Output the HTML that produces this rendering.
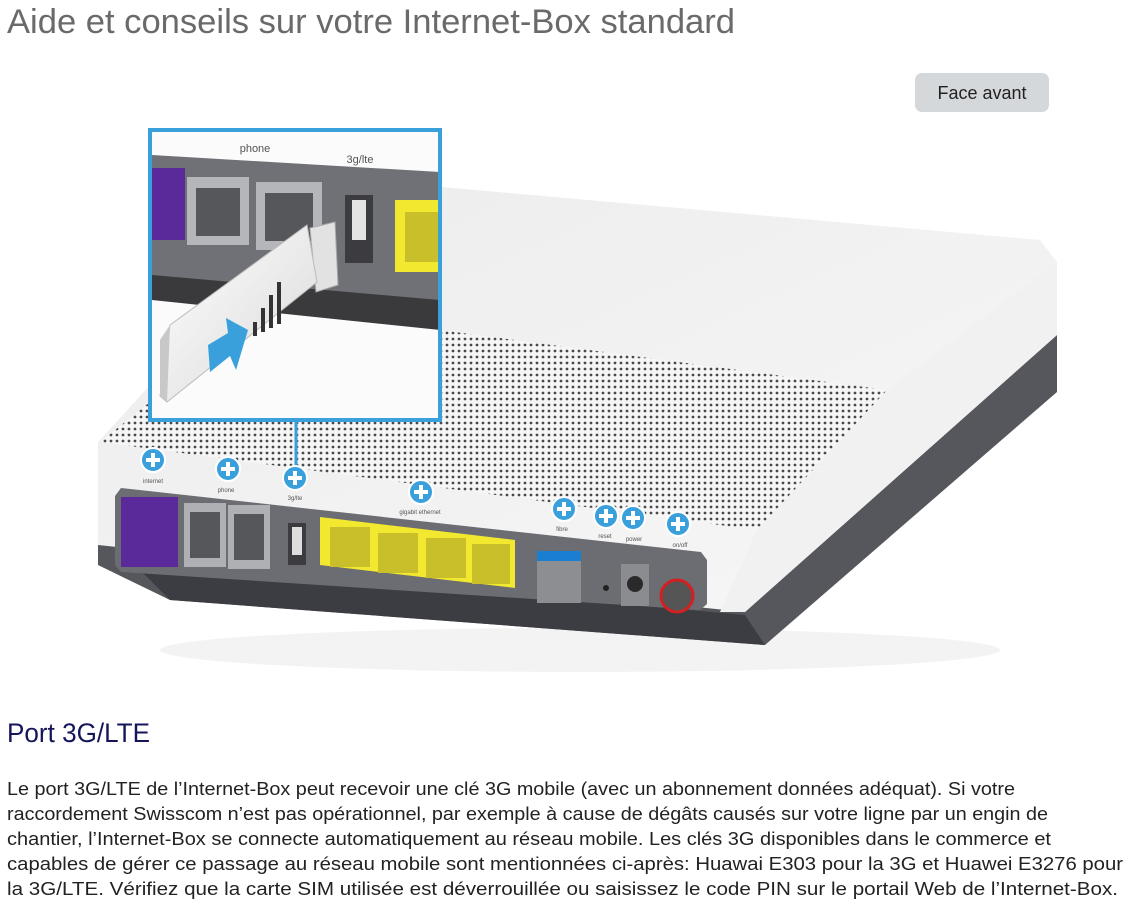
<!DOCTYPE html>
<html><head><meta charset="utf-8"><style>
html,body{margin:0;padding:0;background:#fff;width:1142px;height:920px;overflow:hidden}
svg{display:block}
</style></head><body>
<svg width="1142" height="920" viewBox="0 0 1142 920" xmlns="http://www.w3.org/2000/svg" font-family="Liberation Sans, sans-serif">
<defs>
<pattern id="dots" width="6" height="6" patternUnits="userSpaceOnUse">
<rect width="6" height="6" fill="#f6f6f6"/><circle cx="3" cy="3" r="1.4" fill="#4a4a4a"/>
</pattern>
<linearGradient id="stick" x1="0" y1="0" x2="1" y2="1"><stop offset="0" stop-color="#fff"/><stop offset="1" stop-color="#d8d8d8"/></linearGradient>
<linearGradient id="top" x1="0" y1="0" x2="1" y2="1"><stop offset="0" stop-color="#ececec"/><stop offset="1" stop-color="#f7f7f7"/></linearGradient>
<clipPath id="inset"><rect x="152" y="132" width="286" height="286"/></clipPath>
</defs>

<text x="7" y="33" font-size="34" fill="#6a6a6a" textLength="728" lengthAdjust="spacingAndGlyphs">Aide et conseils sur votre Internet-Box standard</text>

<rect x="915" y="73" width="134" height="39" rx="7" fill="#d5d8db"/>
<text x="982" y="99" font-size="18" fill="#222" text-anchor="middle">Face avant</text>

<ellipse cx="580" cy="650" rx="420" ry="22" fill="#f3f3f3"/>

<!-- dark base -->
<polygon points="98,528 745,603 1057,332 1057,392 765,645 170,600 98,565" fill="#55575c"/>
<polygon points="130,560 745,615 765,645 170,600" fill="#3b3d42"/>
<!-- white body -->
<polygon points="98,442 340,178 1040,240 1057,262 1057,335 745,612 98,545" fill="url(#top)"/>
<polygon points="757,530 887,390 1057,262 1057,335 745,612 720,612" fill="#f1f1f1"/>
<polygon points="100,442 150,402 440,330 887,390 757,530" fill="url(#dots)"/>

<!-- front panel -->
<polygon points="115,496 121,488 701,552 707,560 707,604 700,610 121,572 115,565" fill="#6b6d72"/>
<rect x="121" y="497" width="57" height="70" fill="#5a2a9a"/>
<rect x="184" y="503" width="42" height="64" fill="#aeb0b3"/><rect x="190" y="512" width="30" height="46" fill="#55575b"/>
<rect x="228" y="505" width="42" height="64" fill="#aeb0b3"/><rect x="234" y="514" width="30" height="46" fill="#55575b"/>
<rect x="288" y="523" width="18" height="42" fill="#3c3c40"/><rect x="292" y="527" width="10" height="28" fill="#ddd"/>
<polygon points="320,517 515,540 515,588 320,565" fill="#f2e830"/>
<rect x="330" y="527" width="40" height="40" fill="#c9bf2a"/><rect x="378" y="533" width="40" height="40" fill="#c9bf2a"/>
<rect x="426" y="538" width="40" height="40" fill="#c9bf2a"/><rect x="472" y="544" width="38" height="40" fill="#c9bf2a"/>
<rect x="537" y="551" width="44" height="10" fill="#1a7fd0"/><rect x="537" y="561" width="44" height="42" fill="#8c8e92"/>
<circle cx="606" cy="588" r="3" fill="#222"/>
<rect x="621" y="564" width="28" height="42" fill="#8a8c90"/><circle cx="635" cy="584" r="8" fill="#2a2a2a"/>
<circle cx="677" cy="596" r="16" fill="#555"/><circle cx="677" cy="596" r="16" fill="none" stroke="#d42020" stroke-width="3"/>

<line x1="296" y1="420" x2="296" y2="470" stroke="#3aa0dc" stroke-width="3"/>

<g fill="#3aa0dc" stroke="#fff" stroke-width="2">
<circle cx="153" cy="460" r="12"/><circle cx="228" cy="469" r="12"/><circle cx="295" cy="478" r="12"/>
<circle cx="421" cy="492" r="12"/><circle cx="564" cy="509" r="12"/><circle cx="606" cy="516" r="12"/>
<circle cx="633" cy="518" r="12"/><circle cx="678" cy="524" r="12"/>
</g>
<g stroke="#fff" stroke-width="4">
<path d="M153 453v14M146 460h14"/><path d="M228 462v14M221 469h14"/><path d="M295 471v14M288 478h14"/>
<path d="M421 485v14M414 492h14"/><path d="M564 502v14M557 509h14"/><path d="M606 509v14M599 516h14"/>
<path d="M633 511v14M626 518h14"/><path d="M678 517v14M671 524h14"/>
</g>
<g font-size="6" fill="#555" text-anchor="middle">
<text x="153" y="483">internet</text><text x="226" y="492">phone</text><text x="295" y="500">3g/lte</text>
<text x="420" y="514">gigabit ethernet</text><text x="562" y="531">fibre</text><text x="605" y="538">reset</text>
<text x="634" y="541">power</text><text x="680" y="547">on/off</text>
</g>

<rect x="150" y="130" width="290" height="290" fill="#fbfbfb"/>
<g clip-path="url(#inset)">
<polygon points="152,155 440,172 440,312 152,290" fill="#6f7176"/>
<polygon points="152,275 440,300 440,330 152,300" fill="#3a3a3d"/>
<rect x="152" y="168" width="33" height="72" fill="#5a2a9a"/>
<rect x="187" y="177" width="62" height="68" fill="#b4b6b9"/><rect x="196" y="188" width="44" height="48" fill="#55575b"/>
<rect x="256" y="182" width="66" height="68" fill="#b4b6b9"/><rect x="265" y="193" width="48" height="48" fill="#55575b"/>
<rect x="345" y="195" width="28" height="68" fill="#3c3c40"/><rect x="352" y="200" width="14" height="40" fill="#e4e4e4"/>
<rect x="395" y="200" width="50" height="72" fill="#f2e830"/><rect x="405" y="212" width="40" height="50" fill="#c9bf2a"/>
<text x="255" y="152" font-size="11" fill="#555" text-anchor="middle">phone</text>
<text x="360" y="163" font-size="11" fill="#555" text-anchor="middle">3g/lte</text>
<polygon points="310,228 335,222 338,285 316,292" fill="#e2e2e2" stroke="#aaa"/>
<polygon points="170,325 307,225 317,282 167,402 160,396" fill="url(#stick)" stroke="#bbb"/>
<polygon points="160,340 170,325 167,402 160,396" fill="#c8c8c8"/>
<polygon points="208,345 228,333 226,318 248,330 236,370 230,356 210,372" fill="#3aa0dc"/>
<g fill="#333"><rect x="253" y="322" width="4" height="14"/><rect x="261" y="308" width="4" height="24"/><rect x="269" y="295" width="4" height="33"/><rect x="277" y="282" width="4" height="42"/></g>
</g>
<rect x="150" y="130" width="290" height="290" fill="none" stroke="#3aa0dc" stroke-width="4"/>

<text x="7" y="742" font-size="27" fill="#15155a" textLength="143" lengthAdjust="spacingAndGlyphs">Port 3G/LTE</text>
<g font-size="18" fill="#222">
<text x="7" y="795" textLength="1008" lengthAdjust="spacingAndGlyphs">Le port 3G/LTE de l’Internet-Box peut recevoir une clé 3G mobile (avec un abonnement données adéquat). Si votre</text>
<text x="7" y="820" textLength="1041" lengthAdjust="spacingAndGlyphs">raccordement Swisscom n’est pas opérationnel, par exemple à cause de dégâts causés sur votre ligne par un engin de</text>
<text x="7" y="845" textLength="1044" lengthAdjust="spacingAndGlyphs">chantier, l’Internet-Box se connecte automatiquement au réseau mobile. Les clés 3G disponibles dans le commerce et</text>
<text x="7" y="870" textLength="1116" lengthAdjust="spacingAndGlyphs">capables de gérer ce passage au réseau mobile sont mentionnées ci-après: Huawai E303 pour la 3G et Huawei E3276 pour</text>
<text x="7" y="895" textLength="1111" lengthAdjust="spacingAndGlyphs">la 3G/LTE. Vérifiez que la carte SIM utilisée est déverrouillée ou saisissez le code PIN sur le portail Web de l’Internet-Box.</text>
</g>
</svg>
</body></html>
